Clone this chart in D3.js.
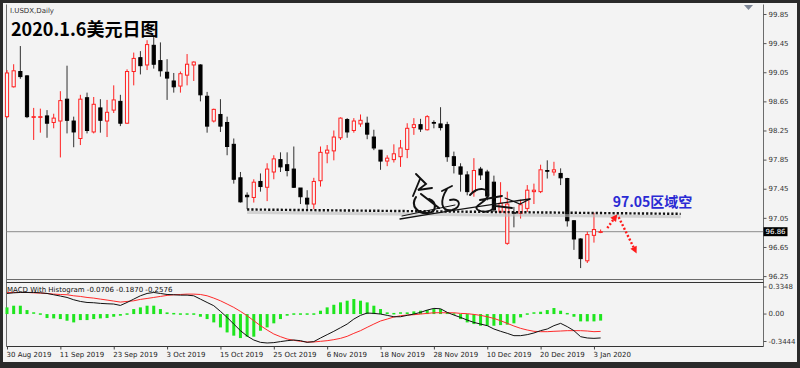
<!DOCTYPE html>
<html><head><meta charset="utf-8">
<script src="https://cdn.jsdelivr.net/npm/d3@7"></script>
<style>html,body{margin:0;padding:0;background:#f3f3f3;}svg{display:block}</style>
</head><body><svg id="c" width="800" height="368"></svg>
<script>
// ---------- data ----------
const dates = [
"2019-08-30","2019-09-02","2019-09-03","2019-09-04","2019-09-05","2019-09-06","2019-09-09","2019-09-10","2019-09-11","2019-09-12",
"2019-09-13","2019-09-16","2019-09-17","2019-09-18","2019-09-19","2019-09-20","2019-09-23","2019-09-24","2019-09-25","2019-09-26",
"2019-09-27","2019-09-30","2019-10-01","2019-10-02","2019-10-03","2019-10-04","2019-10-07","2019-10-08","2019-10-09","2019-10-10",
"2019-10-11","2019-10-14","2019-10-15","2019-10-16","2019-10-17","2019-10-18","2019-10-21","2019-10-22","2019-10-23","2019-10-24",
"2019-10-25","2019-10-28","2019-10-29","2019-10-30","2019-10-31","2019-11-01","2019-11-04","2019-11-05","2019-11-06","2019-11-07",
"2019-11-08","2019-11-11","2019-11-12","2019-11-13","2019-11-14","2019-11-15","2019-11-18","2019-11-19","2019-11-20","2019-11-21",
"2019-11-22","2019-11-25","2019-11-26","2019-11-27","2019-11-28","2019-11-29","2019-12-02","2019-12-03","2019-12-04","2019-12-05",
"2019-12-06","2019-12-09","2019-12-10","2019-12-11","2019-12-12","2019-12-13","2019-12-16","2019-12-17","2019-12-18","2019-12-19",
"2019-12-20","2019-12-23","2019-12-24","2019-12-26","2019-12-27","2019-12-30","2019-12-31","2020-01-02","2020-01-03","2020-01-06"];

const open = [
98.44,98.85,99.06,99.00,98.43,98.43,98.45,98.36,98.38,98.68,
98.38,98.14,98.70,98.23,98.56,98.38,98.53,98.65,98.35,99.06,
99.25,99.15,99.42,99.21,99.05,98.93,98.86,99.01,99.15,99.15,
98.72,98.38,98.47,98.36,98.06,97.60,97.36,97.33,97.55,97.47,
97.68,97.85,97.78,97.72,97.46,97.32,97.24,97.56,97.94,97.97,
98.15,98.40,98.25,98.34,98.35,98.16,97.98,97.83,97.85,97.89,
97.99,98.29,98.33,98.26,98.36,98.34,98.33,97.89,97.75,97.64,
97.41,97.72,97.68,97.54,97.13,96.70,97.12,97.11,97.18,97.41,
97.41,97.70,97.68,97.66,97.59,97.01,96.76,96.46,96.81,96.85];
const high = [
99.08,99.16,99.41,99.01,98.56,98.55,98.53,98.48,98.79,99.14,
98.44,98.74,98.77,98.71,98.68,98.67,98.87,98.74,99.09,99.32,
99.34,99.49,99.56,99.46,99.23,99.04,99.06,99.30,99.20,99.16,
98.78,98.55,98.68,98.44,98.14,97.68,97.40,97.58,97.66,97.80,
97.91,97.95,97.95,98.03,97.46,97.43,97.60,98.03,98.05,98.25,
98.43,98.42,98.42,98.47,98.44,98.26,97.98,97.91,98.06,98.12,
98.35,98.42,98.41,98.46,98.39,98.57,98.37,97.96,97.80,97.69,
97.87,97.75,97.71,97.63,97.54,97.41,97.20,97.30,97.50,97.52,
97.78,97.84,97.82,97.73,97.60,97.02,96.77,96.86,97.12,96.89];
const low = [
98.42,98.84,98.96,98.42,98.12,98.22,98.15,98.28,97.88,98.21,
98.02,98.05,98.21,98.21,98.22,98.16,98.49,98.31,98.34,98.87,
99.02,99.08,99.10,98.99,98.67,98.77,98.77,98.87,98.93,98.65,
98.22,98.36,98.23,97.91,97.52,97.26,97.17,97.26,97.41,97.28,
97.58,97.68,97.62,97.46,97.24,97.16,97.17,97.48,97.80,97.84,
98.12,98.15,98.22,98.30,98.13,97.98,97.71,97.76,97.81,97.75,
97.87,98.19,98.23,98.25,98.28,98.25,97.82,97.66,97.41,97.36,
97.34,97.57,97.29,97.13,97.12,96.68,96.92,97.04,97.13,97.24,
97.39,97.59,97.63,97.50,96.93,96.61,96.36,96.43,96.71,96.84];
const close = [
99.04,99.07,98.99,98.44,98.44,98.44,98.35,98.42,98.66,98.39,
98.23,98.68,98.25,98.61,98.39,98.50,98.67,98.35,99.06,99.24,
99.14,99.43,99.16,99.07,98.97,98.85,99.03,99.16,99.19,98.74,
98.31,98.54,98.31,98.03,97.58,97.27,97.34,97.54,97.48,97.72,
97.86,97.75,97.70,97.47,97.34,97.24,97.55,97.95,97.98,98.16,
98.42,98.23,98.38,98.39,98.20,98.01,97.83,97.87,97.93,98.01,
98.28,98.33,98.27,98.44,98.35,98.29,97.89,97.77,97.65,97.41,
97.70,97.64,97.35,97.16,97.25,97.24,97.11,97.23,97.43,97.43,
97.71,97.69,97.71,97.60,97.01,96.76,96.49,96.82,96.89,96.86];

const hist = [
0.072,0.09,0.09,0.043,0.011,-0.005,-0.043,-0.047,-0.054,-0.072,
-0.09,-0.065,-0.065,-0.054,-0.047,-0.043,-0.029,-0.018,-0.004,0.054,
0.072,0.09,0.09,0.054,0.018,0.004,-0.004,-0.005,-0.006,-0.029,
-0.054,-0.09,-0.144,-0.198,-0.233,-0.259,-0.244,-0.244,-0.18,-0.144,
-0.10,-0.054,-0.018,-0.011,-0.008,-0.006,-0.004,0.036,0.072,0.10,
0.126,0.144,0.162,0.144,0.126,0.09,0.054,0.018,0.004,0.011,
0.018,0.029,0.036,0.043,0.054,0.054,0.018,-0.004,-0.054,-0.09,
-0.108,-0.126,-0.126,-0.126,-0.119,-0.115,-0.10,-0.036,-0.004,0.011,
0.025,0.043,0.065,0.036,0.004,-0.029,-0.079,-0.079,-0.079,-0.0706];
const macd = [
0.222,0.229,0.233,0.233,0.233,0.229,0.222,0.208,0.194,0.179,
0.154,0.136,0.125,0.122,0.115,0.111,0.108,0.093,0.125,0.161,
0.197,0.222,0.233,0.222,0.211,0.208,0.204,0.204,0.197,0.161,
0.125,0.090,0.029,-0.036,-0.108,-0.179,-0.237,-0.280,-0.305,-0.312,
-0.308,-0.297,-0.287,-0.280,-0.287,-0.305,-0.297,-0.258,-0.222,-0.186,
-0.147,-0.108,-0.054,-0.014,0.011,0.007,0.0,-0.014,-0.029,-0.029,
-0.014,0.0,0.018,0.043,0.061,0.057,0.018,-0.011,-0.036,-0.065,
-0.090,-0.108,-0.125,-0.161,-0.186,-0.208,-0.233,-0.233,-0.222,-0.204,
-0.179,-0.161,-0.125,-0.100,-0.136,-0.179,-0.244,-0.258,-0.262,-0.2576];
const signal = [
0.233,0.233,0.233,0.233,0.229,0.226,0.222,0.215,0.211,0.208,
0.197,0.190,0.179,0.172,0.161,0.151,0.140,0.129,0.136,0.143,
0.158,0.168,0.179,0.190,0.201,0.208,0.211,0.215,0.215,0.211,
0.197,0.172,0.143,0.108,0.072,0.029,-0.018,-0.072,-0.125,-0.172,
-0.215,-0.244,-0.269,-0.283,-0.294,-0.301,-0.301,-0.294,-0.287,-0.276,
-0.262,-0.240,-0.208,-0.179,-0.143,-0.108,-0.075,-0.054,-0.032,-0.018,
-0.011,-0.007,0.0,0.007,0.014,0.014,0.014,0.014,0.007,0.004,
-0.004,-0.014,-0.029,-0.047,-0.072,-0.100,-0.129,-0.154,-0.172,-0.186,
-0.190,-0.190,-0.186,-0.183,-0.179,-0.179,-0.179,-0.183,-0.190,-0.187];

const priceTicks = [99.85,99.45,99.05,98.65,98.25,97.85,97.45,97.05,96.65,96.25];
const macdTicks = [0.3348, 0, -0.3444];
const dateTickIdx = [0,8,16,24,32,40,48,56,64,72,80,88];
const dateTickLabels = ["30 Aug 2019","11 Sep 2019","23 Sep 2019","3 Oct 2019","15 Oct 2019","25 Oct 2019","6 Nov 2019","18 Nov 2019","28 Nov 2019","10 Dec 2019","20 Dec 2019","3 Jan 2020"];
const lastPrice = 96.86;
const symbolLabel = "I.USDX,Daily";
const titleText = "2020.1.6美元日图";
const macdLabel = "MACD With Histogram -0.0706 -0.1870 -0.2576";
const resistLevel = {fromIdx:36, fromPrice:97.165, toIdx:101, toPrice:97.105};
const noteText = "97.05区域空";

// ---------- layout ----------
const svg = d3.select("#c");
const W = 800, H = 368;
const L = 6.5, R = 763.5, PT = 4.5, PB = 279.5, MT = 282.5, MB = 346.5;
const FONT = "DejaVu Sans, Verdana, sans-serif";

const x = d3.scalePoint().domain(dates).range([7, 7 + 89 * 6.67]);
const xi = d3.scaleLinear().domain([0, 89]).range([7, 7 + 89 * 6.67]);
const y = d3.scaleLinear().domain([96.25, 99.85]).range([276.1, 14]);
const ym = d3.scaleLinear().domain([-0.3444, 0.3348]).range([346, 283]);

svg.append("rect").attr("width", W).attr("height", H).attr("fill", "#f3f3f3");

// frame lines
const frame = svg.append("g").attr("stroke", "#6b6b6b").attr("stroke-width", 1).attr("fill", "none");
frame.append("line").attr("x1", L).attr("x2", L).attr("y1", PT).attr("y2", MB);
frame.append("line").attr("x1", R).attr("x2", R).attr("y1", PT).attr("y2", MB);
frame.append("line").attr("x1", L).attr("x2", R).attr("y1", PB).attr("y2", PB);
frame.append("line").attr("x1", L).attr("x2", R).attr("y1", MT).attr("y2", MT).attr("stroke", "#333");
frame.append("line").attr("x1", L).attr("x2", R).attr("y1", MB).attr("y2", MB).attr("stroke", "#333");

// current price line
svg.append("line").attr("x1", L).attr("x2", R).attr("y1", y(lastPrice)).attr("y2", y(lastPrice))
  .attr("stroke", "#8c8c8c").attr("stroke-width", 1);

// ---------- candles ----------
const bars = dates.map((d, i) => ({d, o: open[i], h: high[i], l: low[i], c: close[i]}));
const cg = svg.append("g");
cg.selectAll("line.w").data(bars).join("line").attr("class", "w")
  .attr("x1", b => x(b.d)).attr("x2", b => x(b.d))
  .attr("y1", b => y(b.h)).attr("y2", b => y(b.l))
  .attr("stroke", b => b.c >= b.o ? "#ff2020" : "#303030").attr("stroke-width", 1);
cg.selectAll("rect.b").data(bars).join("rect").attr("class", "b")
  .attr("x", b => x(b.d) - 1.6).attr("width", 3.2)
  .attr("y", b => y(Math.max(b.o, b.c)))
  .attr("height", b => Math.max(0.4, y(Math.min(b.o, b.c)) - y(Math.max(b.o, b.c))))
  .attr("fill", b => b.c >= b.o ? "#f6f6f6" : "#000")
  .attr("stroke", b => b.c >= b.o ? "#ff2020" : "#000").attr("stroke-width", 1);

// ---------- annotations ----------
const ann = svg.append("g");
ann.append("line")
  .attr("x1", xi(resistLevel.fromIdx)).attr("y1", y(resistLevel.fromPrice) + 3)
  .attr("x2", xi(resistLevel.toIdx)).attr("y2", y(resistLevel.toPrice) + 3)
  .attr("stroke", "#bdbdbd").attr("stroke-width", 3).attr("opacity", 0.6);
ann.append("line")
  .attr("x1", xi(resistLevel.fromIdx)).attr("y1", y(resistLevel.fromPrice))
  .attr("x2", xi(resistLevel.toIdx)).attr("y2", y(resistLevel.toPrice))
  .attr("stroke", "#111").attr("stroke-width", 2.4).attr("stroke-dasharray", "2.2,2");

ann.append("text").attr("x", xi(90.8)).attr("y", y(97.20))
  .attr("font-family", "Noto Sans CJK SC, sans-serif").attr("font-weight", 700)
  .attr("font-size", 14).attr("fill", "#2a2ad4").text(noteText);

function arrow(i1, p1, i2, p2) {
  const x1 = xi(i1), y1 = y(p1), x2 = xi(i2), y2 = y(p2);
  const a = Math.atan2(y2 - y1, x2 - x1), hl = 7, hw = 3.5;
  const bx = x2 - hl * Math.cos(a), by = y2 - hl * Math.sin(a);
  ann.append("line").attr("x1", x1).attr("y1", y1).attr("x2", bx).attr("y2", by)
    .attr("stroke", "#ff1a1a").attr("stroke-width", 2.4).attr("stroke-dasharray", "2,2");
  ann.append("path").attr("d",
    `M${x2},${y2}L${bx + hw * Math.sin(a)},${by - hw * Math.cos(a)}L${bx - hw * Math.sin(a)},${by + hw * Math.cos(a)}Z`)
    .attr("fill", "#ff1a1a");
}
arrow(90.0, 96.91, 91.5, 97.10);
arrow(91.7, 97.06, 94.4, 96.56);

// handwritten signature (decorative strokes)
const sig = ann.append("g").attr("fill", "none").attr("stroke", "#111").attr("stroke-linecap", "round");
sig.append("path").attr("d", "M400,219 Q460,209 530,199").attr("stroke-width", 1.3);
sig.append("path").attr("d", "M402,216 Q430,210 455,205").attr("stroke-width", 1);
sig.append("path").attr("d", "M416,174 L426,184 L418,190 L432,188 M420,179 L413,196").attr("stroke-width", 1.9);
sig.append("path").attr("d", "M416,197 C410,206 418,214 428,213 C437,212 437,202 429,199 M421,194 L439,208").attr("stroke-width", 2.1);
sig.append("path").attr("d", "M442,191 L452,186 M447,189 C440,200 440,212 452,210 C462,208 461,197 450,200").attr("stroke-width", 1.9);
sig.append("path").attr("d", "M470,195 C478,186 490,188 488,196 C484,204 472,206 478,210 C486,214 497,210 495,202 M480,200 L502,196 M496,206 L512,208").attr("stroke-width", 1.9);
sig.append("path").attr("d", "M505,198 L520,204 L530,199").attr("stroke-width", 1.2);

// ---------- price axis ----------
const pa = svg.append("g").attr("transform", `translate(${R},0)`)
  .call(d3.axisRight(y).tickValues(priceTicks).tickSize(3).tickPadding(2).tickFormat(d3.format(".2f")));
pa.select(".domain").remove();
pa.selectAll("line").attr("stroke", "#555");
pa.selectAll("text").attr("font-family", FONT).attr("font-size", 7).attr("fill", "#333");

// last price box
svg.append("rect").attr("x", R).attr("y", y(lastPrice) - 4.5).attr("width", 24).attr("height", 9).attr("fill", "#000");
svg.append("text").attr("x", R + 2).attr("y", y(lastPrice)).attr("dy", "0.35em")
  .attr("font-family", FONT).attr("font-size", 7).attr("fill", "#fff").text(lastPrice.toFixed(2));

// ---------- MACD panel ----------
const mg = svg.append("g");
mg.selectAll("rect").data(hist).join("rect")
  .attr("x", (v, i) => x(dates[i]) - 1.5).attr("width", 3)
  .attr("y", v => Math.min(ym(0), ym(v)) - (Math.abs(ym(v) - ym(0)) < 1.5 ? 0.75 : 0))
  .attr("height", v => Math.max(1.5, Math.abs(ym(v) - ym(0))))
  .attr("fill", "#1ee61e");
mg.append("path").datum(signal).attr("fill", "none").attr("stroke", "#ff2a2a").attr("stroke-width", 1)
  .attr("d", d3.line().x((v, i) => x(dates[i])).y(v => ym(v)));
mg.append("path").datum(macd).attr("fill", "none").attr("stroke", "#111").attr("stroke-width", 1)
  .attr("d", d3.line().x((v, i) => x(dates[i])).y(v => ym(v)));
svg.append("text").attr("x", 7).attr("y", 292).attr("font-family", FONT).attr("font-size", 7)
  .attr("fill", "#111").text(macdLabel);

const ma = svg.append("g").attr("transform", `translate(${R},0)`)
  .call(d3.axisRight(ym).tickValues(macdTicks).tickSize(3).tickPadding(2)
    .tickFormat(d => d === 0 ? "0.00" : d.toFixed(4)));
ma.select(".domain").remove();
ma.selectAll(".tick").attr("transform", d => `translate(0,${d > 0 ? 287 : d < 0 ? 341.5 : ym(0)})`);
ma.selectAll("line").attr("stroke", "#555");
ma.selectAll("text").attr("font-family", FONT).attr("font-size", 7).attr("fill", "#333");

// ---------- date axis ----------
const da = svg.append("g").attr("transform", `translate(0,${MB})`)
  .call(d3.axisBottom(x).tickValues(dateTickIdx.map(i => dates[i])).tickSize(3)
    .tickFormat((d, k) => dateTickLabels[k]));
da.select(".domain").remove();
da.selectAll("line").attr("stroke", "#444");
da.selectAll("text").attr("font-family", FONT).attr("font-size", 7).attr("fill", "#222")
  .attr("text-anchor", "start").attr("dx", -1).attr("y", 10.5).attr("dy", 0);

// ---------- titles ----------
svg.append("text").attr("x", 10).attr("y", 13).attr("font-family", FONT).attr("font-size", 7)
  .attr("fill", "#333").text(symbolLabel);
svg.append("text").attr("x", 11).attr("y", 36).attr("font-family", "Noto Sans CJK SC, sans-serif")
  .attr("font-weight", 700).attr("font-size", 18).attr("fill", "#000").text(titleText);

// chart-shift marker
svg.append("path").attr("d", "M744,5 L753,5 L748.5,10 Z").attr("fill", "#7d8696");

// outer border
svg.append("rect").attr("x", 1.5).attr("y", 1.5).attr("width", W - 3).attr("height", H - 3)
  .attr("fill", "none").attr("stroke", "#2a2a2a").attr("stroke-width", 3);
svg.append("line").attr("x1", 0).attr("x2", W).attr("y1", 365).attr("y2", 365).attr("stroke", "#2a2a2a").attr("stroke-width", 6);
</script></body></html>
